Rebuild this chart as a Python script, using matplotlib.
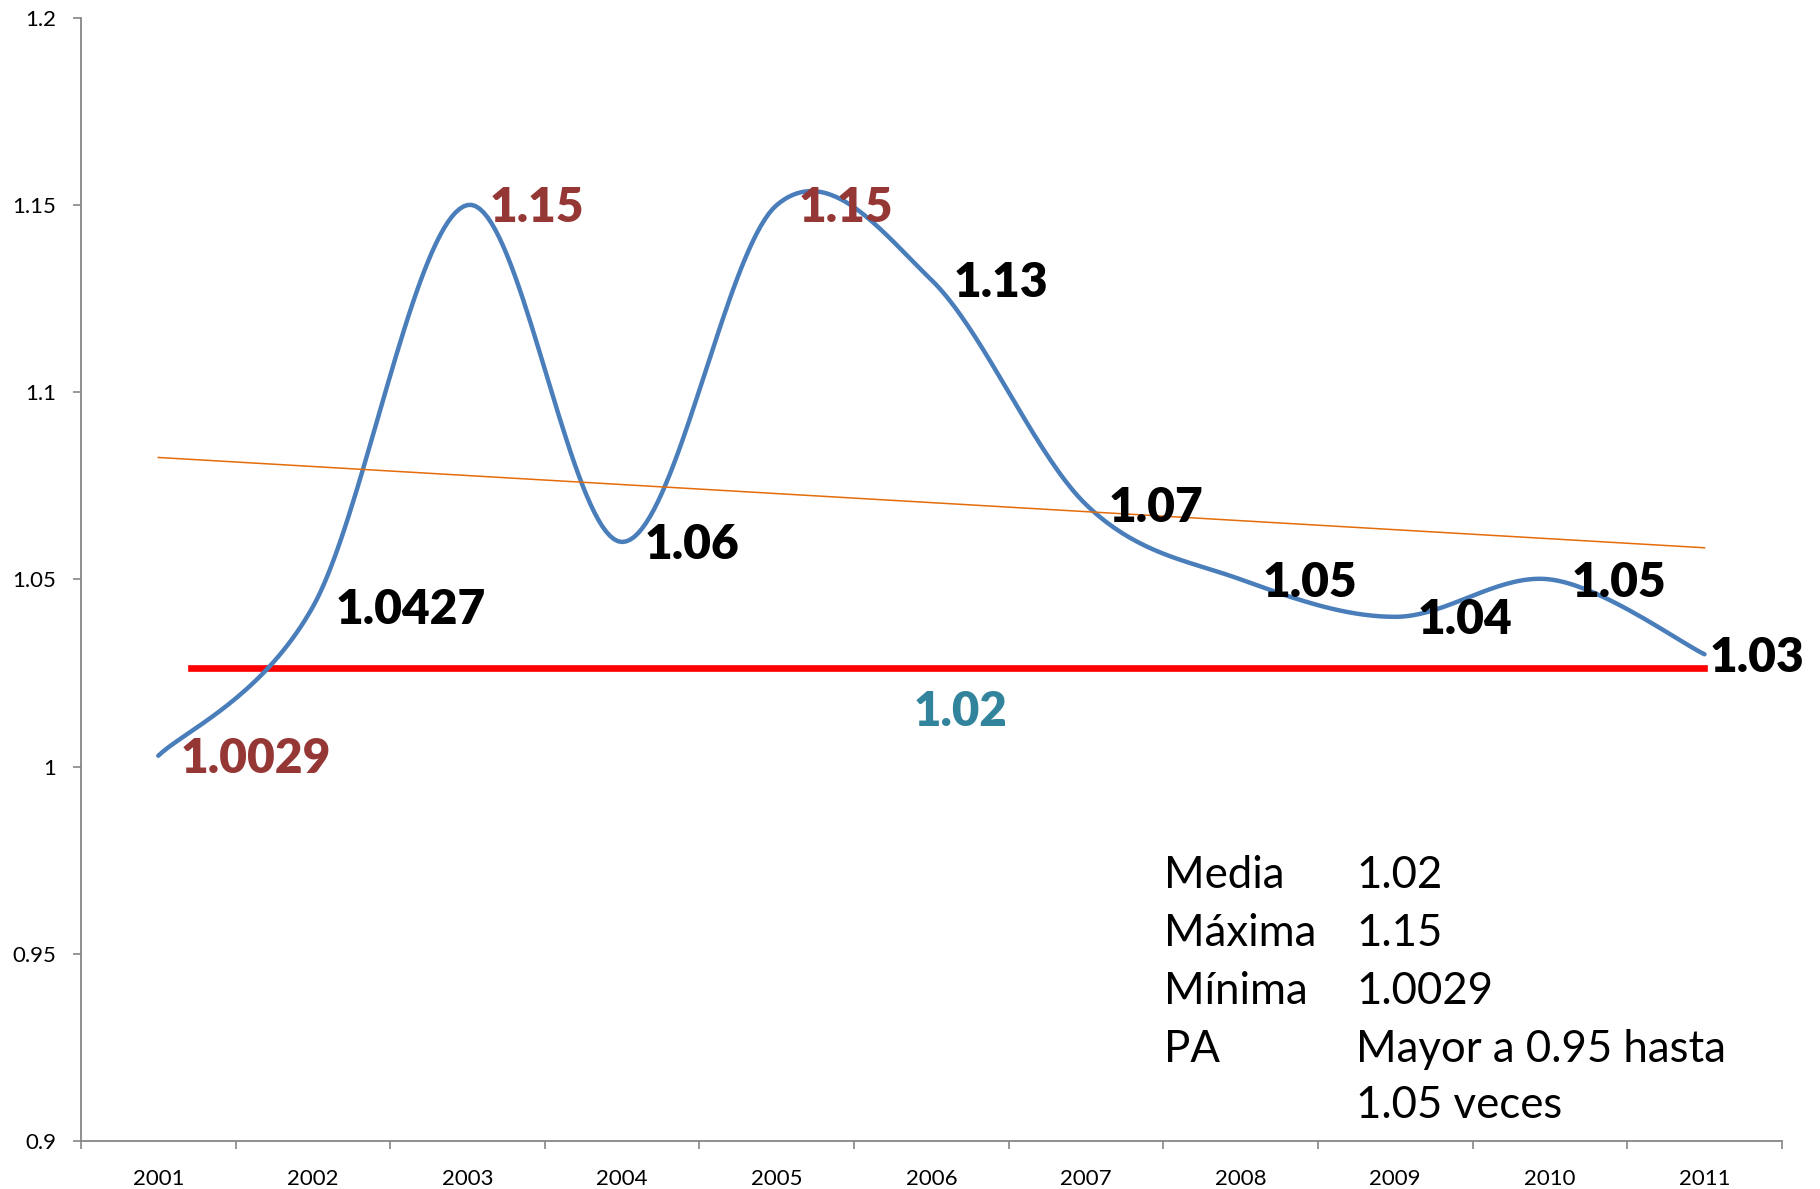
import numpy as np
import matplotlib
matplotlib.use("Agg")
import matplotlib.pyplot as plt

plt.rcParams['font.family'] = ['Lato', 'DejaVu Sans']

# datos
years = [2001, 2002, 2003, 2004, 2005, 2006, 2007, 2008, 2009, 2010, 2011]
values = [1.0029, 1.0427, 1.15, 1.06, 1.15, 1.13, 1.07, 1.05, 1.04, 1.05, 1.03]
labels = ['1.0029', '1.0427', '1.15', '1.06', '1.15', '1.13', '1.07', '1.05', '1.04', '1.05', '1.03']
label_colors = ['#953735', 'black', '#953735', 'black', '#953735', 'black',
                'black', 'black', 'black', 'black', 'black']
media = 1.0264
media_text = '1.02'
media_from = 2001.21
media_to = 2011

stat_names = ['Media', 'Máxima', 'Mínima', 'PA', '']
stat_values = ['1.02', '1.15', '1.0029', 'Mayor a 0.95 hasta', '1.05 veces']


def smooth_curve(x, y, n=40):
    # curva suavizada tipo Excel (Catmull-Rom / Bezier)
    x = np.asarray(x, float)
    y = np.asarray(y, float)
    px, py = [], []
    for i in range(len(x) - 1):
        x0, y0 = (x[i - 1], y[i - 1]) if i > 0 else (x[i], y[i])
        x3, y3 = (x[i + 2], y[i + 2]) if i + 2 < len(x) else (x[i + 1], y[i + 1])
        c1x = x[i] + (x[i + 1] - x0) / 6
        c1y = y[i] + (y[i + 1] - y0) / 6
        c2x = x[i + 1] - (x3 - x[i]) / 6
        c2y = y[i + 1] - (y3 - y[i]) / 6
        t = np.linspace(0, 1, n)
        a, b, c, d = (1 - t) ** 3, 3 * t * (1 - t) ** 2, 3 * t ** 2 * (1 - t), t ** 3
        px.append(a * x[i] + b * c1x + c * c2x + d * x[i + 1])
        py.append(a * y[i] + b * c1y + c * c2y + d * y[i + 1])
    return np.concatenate(px), np.concatenate(py)


fig = plt.figure(figsize=(18.2, 11.89), dpi=100)
ax = fig.add_axes([0.0445, 0.0404, 0.9345, 0.9446])

sx, sy = smooth_curve(years, values)
ax.plot(sx, sy, color='#4A7EBB', lw=3.2, solid_capstyle='round', zorder=3)

# linea de tendencia
coef = np.polyfit(years, values, 1)
tx = np.array([years[0], years[-1]])
ax.plot(tx, np.polyval(coef, tx), color='#E46C0A', lw=1.1, zorder=4)

# media
ax.plot([media_from, media_to], [media, media], color='#FF0000', lw=4.8, zorder=2)
ax.annotate(media_text, ((media_from + media_to) / 2, media), xytext=(9, -32),
            textcoords='offset points', ha='center', va='center',
            fontsize=34, fontweight='heavy', color='#31849B')

for i, (x, y) in enumerate(zip(years, values)):
    off = 3.5 if i == len(years) - 1 else 16
    ax.annotate(labels[i], (x, y), xytext=(off, -2.5), textcoords='offset points',
                ha='left', va='center', fontsize=34.5, fontweight='heavy',
                color=label_colors[i], zorder=5)

# tabla de resumen
row_y = [876, 934, 992, 1050, 1106]
for name, val, yp in zip(stat_names, stat_values, row_y):
    fig.text(1164 / 1820, 1 - yp / 1189, name, fontsize=31.5, va='center', ha='left')
    fig.text(1356 / 1820, 1 - yp / 1189, val, fontsize=31.5, va='center', ha='left')

ax.set_xlim(2000.5, 2011.5)
ax.set_ylim(0.9, 1.2)
ax.set_yticks([0.9, 0.95, 1.0, 1.05, 1.1, 1.15, 1.2])
ax.set_yticklabels(['0.9', '0.95', '1', '1.05', '1.1', '1.15', '1.2'])
ax.set_xticks(np.arange(2000.5, 2012, 1))
ax.set_xticklabels([])
ax.set_xticks(years, minor=True)
ax.set_xticklabels([str(y) for y in years], minor=True)
ax.tick_params(axis='x', which='major', length=6, width=1.2, color='#868686')
ax.tick_params(axis='x', which='minor', length=0, pad=20, labelsize=16)
ax.tick_params(axis='y', length=6, width=1.2, color='#868686', pad=12, labelsize=16)

for s in ['top', 'right']:
    ax.spines[s].set_visible(False)
for s in ['left', 'bottom']:
    ax.spines[s].set_color('#868686')
    ax.spines[s].set_linewidth(1.3)

fig.savefig('out.png', dpi=100)
